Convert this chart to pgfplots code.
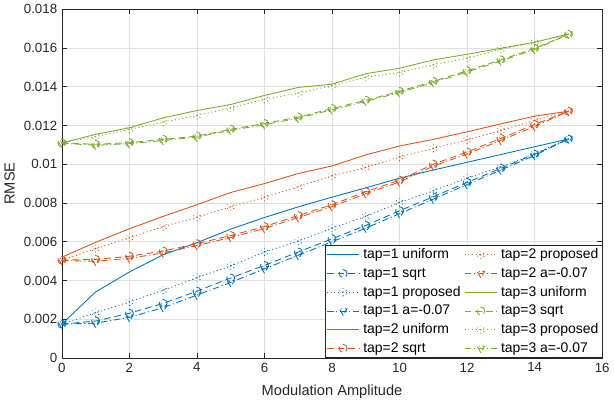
\documentclass[border=0pt]{standalone}
\usepackage{pgfplots}
\pgfplotsset{compat=1.18}
\usepackage{fontspec}
\setmainfont{Liberation Sans}
\definecolor{mblue}{rgb}{0,0.447,0.741}
\definecolor{morange}{rgb}{0.85,0.325,0.098}
\definecolor{mgreen}{rgb}{0.466,0.674,0.188}
\definecolor{axgray}{rgb}{0.15,0.15,0.15}
\begin{document}
\begin{tikzpicture}
\begin{axis}[
  scale only axis,
  width=406.5pt, height=262.5pt,
  xmin=0, xmax=16, ymin=0, ymax=0.018,
  xtick={0,2,...,16},
  ytick={0,0.002,0.004,0.006,0.008,0.01,0.012,0.014,0.016,0.018},
  yticklabels={0,0.002,0.004,0.006,0.008,0.01,0.012,0.014,0.016,0.018},
  scaled y ticks=false,
  /pgf/number format/assume math mode=true,
  grid=major,
  major grid style={draw=black!12, line width=0.5pt},
  axis line style={draw=axgray, line width=0.5pt},
  tick style={draw=axgray, line width=0.5pt},
  major tick length=4pt,
  tick label style={font=\fontsize{10}{12}\selectfont, text=axgray},
  label style={font=\fontsize{11}{13}\selectfont, text=axgray},
  xlabel={Modulation Amplitude},
  xlabel style={yshift=-3pt},
  ylabel={RMSE},
  every axis plot/.append style={line width=0.65pt},
  every mark/.append style={solid},
  legend columns=6,
  transpose legend,
  legend style={at={(1,0)}, anchor=south east, draw=axgray, line width=0.5pt,
    font=\fontsize{10}{12}\selectfont,
    nodes={font=\fontsize{10.5}{12}\selectfont, text=black, inner sep=1.6pt},
    cells={anchor=west},
    inner sep=1pt, row sep=1.9pt, column sep=1pt},
  legend image code/.code={\draw[mark repeat=2,mark phase=2,#1] plot coordinates {(0cm,0cm) (0.43cm,0cm) (0.86cm,0cm)};},
]
% tap=1
\addplot[mblue, solid] coordinates {(0,0.00175)(1,0.00341)(2,0.00444)(3,0.00533)(4,0.00595)(5,0.00665)(6,0.00725)(7,0.0078)(8,0.0083)(9,0.00878)(10,0.00928)(11,0.0097)(12,0.0101)(13,0.0105)(14,0.0109)(15,0.0113)};
\addlegendentry{tap=1 uniform}
\addplot[mblue, dash pattern=on 5pt off 3pt, mark=o, mark size=3pt] coordinates {(0,0.00175)(1,0.00191)(2,0.00231)(3,0.00282)(4,0.00345)(5,0.00413)(6,0.00478)(7,0.00547)(8,0.00615)(9,0.00684)(10,0.0076)(11,0.00832)(12,0.00906)(13,0.00979)(14,0.01051)(15,0.0113)};
\addlegendentry{tap=1 sqrt}
\addplot[mblue, dash pattern=on 0.8pt off 2pt, mark=asterisk, mark size=3pt] coordinates {(0,0.00175)(1,0.00234)(2,0.0029)(3,0.0035)(4,0.00415)(5,0.00475)(6,0.00547)(7,0.00603)(8,0.0067)(9,0.00731)(10,0.00803)(11,0.00863)(12,0.00928)(13,0.00986)(14,0.01054)(15,0.0113)};
\addlegendentry{tap=1 proposed}
\addplot[mblue, dash pattern=on 5pt off 2pt on 0.8pt off 2pt, mark=triangle, mark options={rotate=180}, mark size=3.3pt] coordinates {(0,0.00175)(1,0.0018)(2,0.0021)(3,0.0026)(4,0.00325)(5,0.0039)(6,0.0046)(7,0.0053)(8,0.006)(9,0.0067)(10,0.00745)(11,0.0082)(12,0.00895)(13,0.0097)(14,0.01045)(15,0.0113)};
\addlegendentry{tap=1 a=-0.07}
% tap=2
\addplot[morange, solid] coordinates {(0,0.0052)(1,0.00597)(2,0.00667)(3,0.00731)(4,0.00791)(5,0.00854)(6,0.009)(7,0.00952)(8,0.00991)(9,0.01048)(10,0.01094)(11,0.01128)(12,0.01167)(13,0.01208)(14,0.01248)(15,0.01273)};
\addlegendentry{tap=2 uniform}
\addplot[morange, dash pattern=on 5pt off 3pt, mark=o, mark size=3pt] coordinates {(0,0.00505)(1,0.00509)(2,0.00525)(3,0.00552)(4,0.0059)(5,0.00632)(6,0.00678)(7,0.00735)(8,0.00791)(9,0.00858)(10,0.00918)(11,0.01)(12,0.01063)(13,0.01133)(14,0.01205)(15,0.01273)};
\addlegendentry{tap=2 sqrt}
\addplot[morange, dash pattern=on 0.8pt off 2pt, mark=asterisk, mark size=3pt] coordinates {(0,0.00505)(1,0.00564)(2,0.00621)(3,0.00678)(4,0.00726)(5,0.00781)(6,0.00829)(7,0.00884)(8,0.0094)(9,0.00983)(10,0.01037)(11,0.01082)(12,0.01125)(13,0.01174)(14,0.01226)(15,0.01273)};
\addlegendentry{tap=2 proposed}
\addplot[morange, dash pattern=on 5pt off 2pt on 0.8pt off 2pt, mark=triangle, mark options={rotate=180}, mark size=3.3pt] coordinates {(0,0.00503)(1,0.00499)(2,0.00515)(3,0.00542)(4,0.0058)(5,0.00622)(6,0.00668)(7,0.00725)(8,0.00781)(9,0.00848)(10,0.00908)(11,0.0099)(12,0.01053)(13,0.01123)(14,0.01195)(15,0.01273)};
\addlegendentry{tap=2 a=-0.07}
% tap=3
\addplot[mgreen, solid] coordinates {(0,0.0111)(1,0.01154)(2,0.01188)(3,0.01239)(4,0.01277)(5,0.01308)(6,0.01355)(7,0.01396)(8,0.01413)(9,0.01467)(10,0.01495)(11,0.01538)(12,0.01567)(13,0.01598)(14,0.01629)(15,0.01672)};
\addlegendentry{tap=3 uniform}
\addplot[mgreen, dash pattern=on 5pt off 3pt, mark=o, mark size=3pt] coordinates {(0,0.0111)(1,0.01103)(2,0.01111)(3,0.01128)(4,0.01145)(5,0.0118)(6,0.0121)(7,0.01243)(8,0.01287)(9,0.0133)(10,0.01376)(11,0.01427)(12,0.01482)(13,0.01538)(14,0.01598)(15,0.0167)};
\addlegendentry{tap=3 sqrt}
\addplot[mgreen, dash pattern=on 0.8pt off 2pt, mark=asterisk, mark size=3pt] coordinates {(0,0.0111)(1,0.01142)(2,0.0118)(3,0.01217)(4,0.01251)(5,0.0129)(6,0.01335)(7,0.01367)(8,0.01405)(9,0.01449)(10,0.01473)(11,0.01513)(12,0.01547)(13,0.01593)(14,0.01629)(15,0.0167)};
\addlegendentry{tap=3 proposed}
\addplot[mgreen, dash pattern=on 5pt off 2pt on 0.8pt off 2pt, mark=triangle, mark options={rotate=180}, mark size=3.3pt] coordinates {(0,0.01108)(1,0.01098)(2,0.01106)(3,0.01122)(4,0.0114)(5,0.01175)(6,0.01204)(7,0.01237)(8,0.01281)(9,0.01324)(10,0.0137)(11,0.01421)(12,0.01476)(13,0.01532)(14,0.01592)(15,0.0167)};
\addlegendentry{tap=3 a=-0.07}
\end{axis}
\end{tikzpicture}
\end{document}
